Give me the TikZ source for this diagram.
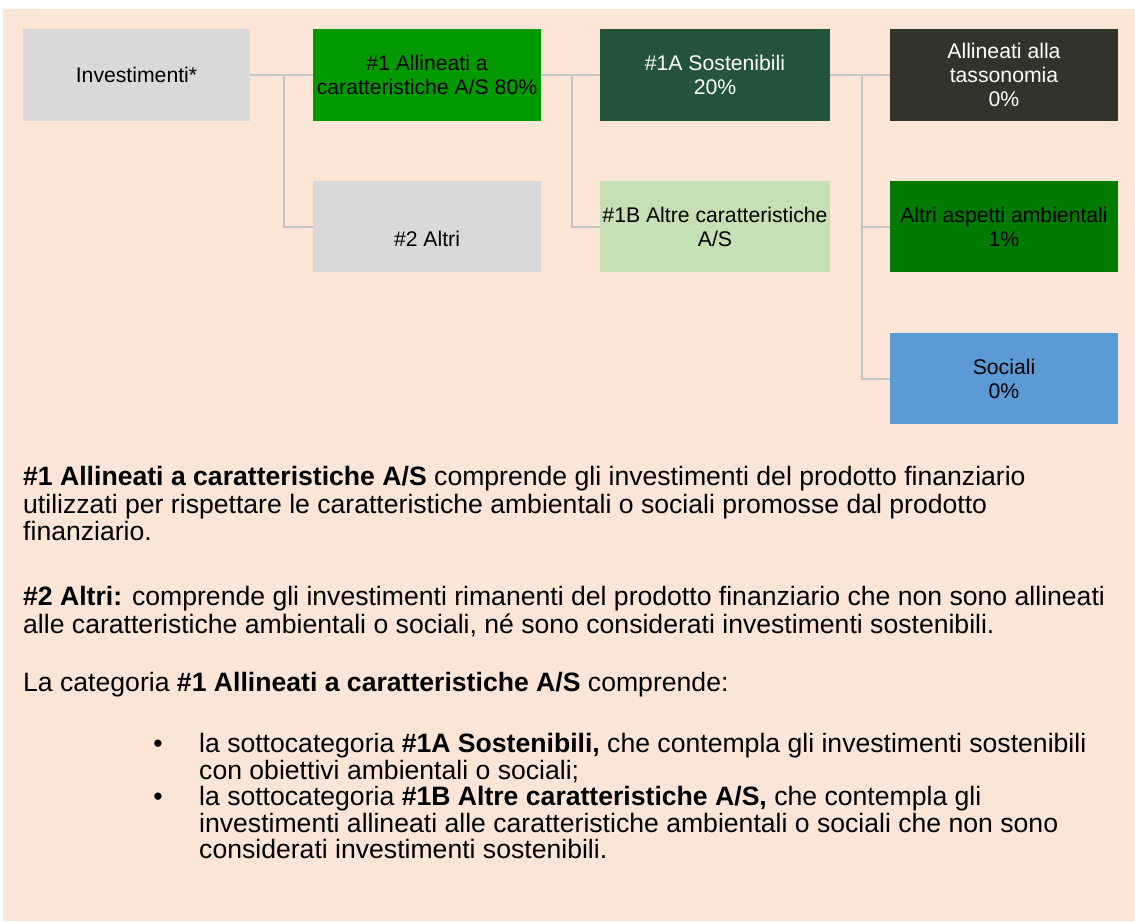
\documentclass[tikz,border=0pt]{standalone}
\usepackage{fontspec}
\setmainfont{Liberation Sans}
\definecolor{peach}{HTML}{FBE5D6}
\definecolor{boxgray}{HTML}{D9D9D9}
\definecolor{gA}{HTML}{009900}
\definecolor{gDark}{HTML}{24553A}
\definecolor{gLight}{HTML}{C5E0B4}
\definecolor{taxo}{HTML}{32342B}
\definecolor{gEnv}{HTML}{007A00}
\definecolor{socblue}{HTML}{5B9BD5}
\definecolor{connc}{HTML}{C4C4C4}
\newcommand\boxfnt{\fontsize{21.2}{24}\selectfont}
\newcommand\bodyfnt{\fontsize{26.6}{28}\selectfont}
\begin{document}
\begin{tikzpicture}[x=1pt,y=-1pt,
  catbox/.style={rectangle, inner sep=0pt, minimum width=228pt, minimum height=92pt, align=center, font=\boxfnt, text=black},
  conn/.style={draw=connc, line width=2pt},
  bodyline/.style={anchor=base west, inner sep=0pt, font=\bodyfnt, text=black}]
\useasboundingbox (0,0) rectangle (1135,921);
\fill[white] (0,0) rectangle (1135,921);
\fill[peach] (3,9) rectangle (1135,921);

% boxes
\node[catbox, fill=boxgray, minimum width=227pt] (inv) at (136.5,75) {Investimenti*};
\node[catbox, fill=gA] (a1) at (427,75) {\#1 Allineati a\\caratteristiche A/S 80\%};
\node[catbox, fill=boxgray, minimum height=91pt] (a2) at (427,226.5) {\strut\\\#2 Altri};
\node[catbox, fill=gDark, text=white, minimum width=230pt] (s1a) at (715,75) {\#1A Sostenibili\\20\%};
\node[catbox, fill=gLight, minimum width=230pt, minimum height=91pt] (s1b) at (715,226.5) {\#1B Altre caratteristiche\\A/S};
\node[catbox, fill=taxo, text=white] (tax) at (1004,75) {Allineati alla\\tassonomia\\0\%};
\node[catbox, fill=gEnv, minimum height=91pt] (env) at (1004,226.5) {Altri aspetti ambientali\\1\%};
\node[catbox, fill=socblue, minimum height=91pt] (soc) at (1004,378.5) {Sociali\\0\%};

% connectors
\coordinate (j1) at (283.5,75);
\coordinate (j2) at (571.5,75);
\coordinate (j3) at (861.5,75);
\draw[conn] (inv.east) -- (a1.west);
\draw[conn] (j1) |- (a2.west);
\draw[conn] (a1.east) -- (s1a.west);
\draw[conn] (j2) |- (s1b.west);
\draw[conn] (s1a.east) -- (tax.west);
\draw[conn] (j3) |- (env.west);
\draw[conn] (j3) |- (soc.west);

% body text
\node[bodyline] (p1a) at (23,485) {\textbf{\#1 Allineati a caratteristiche A/S} comprende gli investimenti del prodotto finanziario};
\node[bodyline] (p1b) at (23,513) {utilizzati per rispettare le caratteristiche ambientali o sociali promosse dal prodotto};
\node[bodyline] (p1c) at (23,540.5) {finanziario.};
\node[bodyline] (p2a) at (23,605) {\textbf{\#2 Altri:} comprende gli investimenti rimanenti del prodotto finanziario che non sono allineati};
\node[bodyline] (p2b) at (23,633) {alle caratteristiche ambientali o sociali, né sono considerati investimenti sostenibili.};
\node[bodyline] (p3a) at (23,691) {La categoria \textbf{\#1 Allineati a caratteristiche A/S} comprende:};
\node[bodyline, anchor=base] (bu1) at (158,752.5) {•};
\node[bodyline] (b1a) at (199,752.5) {la sottocategoria \textbf{\#1A Sostenibili,} che contempla gli investimenti sostenibili};
\node[bodyline] (b1b) at (199,779) {con obiettivi ambientali o sociali;};
\node[bodyline, anchor=base] (bu2) at (158,805.5) {•};
\node[bodyline] (b2a) at (199,805.5) {la sottocategoria \textbf{\#1B Altre caratteristiche A/S,} che contempla gli};
\node[bodyline] (b2b) at (199,832) {investimenti allineati alle caratteristiche ambientali o sociali che non sono};
\node[bodyline] (b2c) at (199,858.5) {considerati investimenti sostenibili.};
\end{tikzpicture}
\end{document}
